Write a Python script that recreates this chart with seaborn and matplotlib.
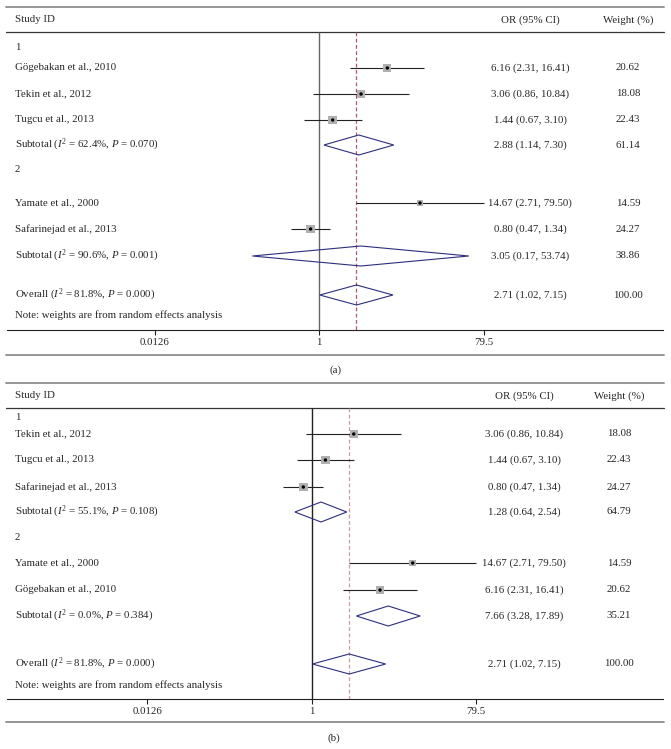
import numpy as np
import pandas as pd
import matplotlib
matplotlib.use("Agg")
import matplotlib.pyplot as plt
import seaborn as sns

#%% data

# panel (a): studies grouped 1 / 2
a_study = ["Gögebakan et al., 2010", "Tekin et al., 2012", "Tugcu et al., 2013",
           "Yamate et al., 2000", "Safarinejad et al., 2013"]
a_group = [1, 1, 1, 2, 2]
a_or = [6.16, 3.06, 1.44, 14.67, 0.80]
a_lo = [2.31, 0.86, 0.67, 2.71, 0.47]
a_hi = [16.41, 10.84, 3.10, 79.50, 1.34]
a_wt = [20.62, 18.08, 22.43, 14.59, 24.27]
a_sub_or = [2.88, 3.05]
a_sub_lo = [1.14, 0.17]
a_sub_hi = [7.30, 53.74]
a_sub_wt = [61.14, 38.86]
a_sub_i2 = [62.4, 90.6]
a_sub_p = ["0.070", "0.001"]

# panel (b): other grouping
b_study = ["Tekin et al., 2012", "Tugcu et al., 2013", "Safarinejad et al., 2013",
           "Yamate et al., 2000", "Gögebakan et al., 2010"]
b_group = [1, 1, 1, 2, 2]
b_or = [3.06, 1.44, 0.80, 14.67, 6.16]
b_lo = [0.86, 0.67, 0.47, 2.71, 2.31]
b_hi = [10.84, 3.10, 1.34, 79.50, 16.41]
b_wt = [18.08, 22.43, 24.27, 14.59, 20.62]
b_sub_or = [1.28, 7.66]
b_sub_lo = [0.64, 3.28]
b_sub_hi = [2.54, 17.89]
b_sub_wt = [64.79, 35.21]
b_sub_i2 = [55.1, 0.0]
b_sub_p = ["0.108", "0.384"]

# overall estimate (same in both panels)
overall_or = 2.71
overall_lo = 1.02
overall_hi = 7.15
overall_wt = 100.00
overall_i2 = 81.8
overall_p = "0.000"

group_labels = ["1", "2"]
tick_vals = [0.0126, 1, 79.5]
tick_labels = ["0.0126", "1", "79.5"]
note = "Note: weights are from random effects analysis"

#%% layout (pixel rows / columns of each panel)

W, H = 671, 749
PX_PER_LN = 37.6  # horizontal pixels per unit of ln(OR)

layout_a = dict(top=7, head=20, rule=32, groups=[48, 170], studies=[68, 94, 120, 203, 229],
                subs=[145, 256], overall=295, note=315, axis=330, bottom=355,
                label=370, label_x=336, x1=319, or_x=530, wt_x=628,
                vcol="#666666", dcol="#a85a6c")
layout_b = dict(top=383, head=396, rule=408, groups=[418, 538], studies=[434, 460, 487, 563, 590],
                subs=[512, 616], overall=664, note=685, axis=699, bottom=722,
                label=738, label_x=334, x1=311.7, or_x=524, wt_x=619,
                vcol="#222222", dcol="#c89aa6")

sns.set_theme(style="white")
plt.rcParams["font.family"] = ["Liberation Serif", "DejaVu Serif"]
plt.rcParams["mathtext.fontset"] = "custom"
plt.rcParams["mathtext.rm"] = "Liberation Serif"
plt.rcParams["mathtext.it"] = "Liberation Serif:italic"
FS = 7.8
DIAMOND = "#2e2e80"
SQUARE = "#b0b0b0"


def px_to_or(px, x1):
    return np.exp((px - x1) / PX_PER_LN)


def fmt_ci(o, lo, hi):
    return f"{o:.2f} ({lo:.2f}, {hi:.2f})"


def draw_panel(fig, L, study, group, o, lo, hi, wt, s_or, s_lo, s_hi, s_wt, s_i2, s_p, tag):
    ax = fig.add_axes([0, 0, 1, 1])
    ax.patch.set_visible(False)
    ax.set_xscale("log")
    ax.set_xlim(px_to_or(0, L["x1"]), px_to_or(W, L["x1"]))
    ax.set_ylim(H, 0)
    yt = ax.get_yaxis_transform()
    xmin, xmax = 6 / W, 664 / W

    # rules
    ax.axhline(L["top"], xmin, xmax, color="#8c8c8c", lw=1.3)
    ax.axhline(L["rule"], xmin, xmax, color="#333333", lw=0.9)
    ax.axhline(L["bottom"], xmin, xmax, color="#8c8c8c", lw=1.3)

    # headers
    ax.text(15 / W, L["head"], "Study ID", transform=yt, fontsize=FS, va="center")
    ax.text(L["or_x"] / W, L["head"], "OR (95% CI)", transform=yt, fontsize=FS, va="center", ha="center")
    ax.text(L["wt_x"] / W, L["head"], "Weight (%)", transform=yt, fontsize=FS, va="center", ha="center")

    # reference lines
    ax.vlines(1, L["rule"], L["axis"], color=L["vcol"], lw=1.0)
    ax.vlines(overall_or, L["rule"], L["axis"], color=L["dcol"], lw=0.9, linestyles=(0, (3, 2)))

    # studies
    df = pd.DataFrame({"study": study, "group": group, "or": o, "lo": lo, "hi": hi,
                       "wt": wt, "y": L["studies"]})
    ax.hlines(df["y"], df["lo"], df["hi"], color="#222222", lw=0.8)
    sns.scatterplot(data=df, x="or", y="y", size="wt", sizes=(0, 42), size_norm=(0, 25),
                    marker="s", color=SQUARE, edgecolor="none", legend=False, ax=ax, zorder=3)
    sns.scatterplot(data=df, x="or", y="y", marker="o", color="black", s=6,
                    edgecolor="none", legend=False, ax=ax, zorder=4)
    for _, r in df.iterrows():
        ax.text(15 / W, r["y"], r["study"], transform=yt, fontsize=FS, va="center")
        ax.text(L["or_x"] / W, r["y"], fmt_ci(r["or"], r["lo"], r["hi"]), transform=yt,
                fontsize=FS, va="center", ha="center")
        ax.text(L["wt_x"] / W, r["y"], f"{r['wt']:.2f}", transform=yt,
                fontsize=FS, va="center", ha="center")

    # group labels and subtotals
    rows = list(zip(s_or, s_lo, s_hi, s_wt, [f"Subtotal ($I^2$ = {i:.1f}%, $P$ = {p})" for i, p in zip(s_i2, s_p)], L["subs"]))
    rows.append((overall_or, overall_lo, overall_hi, overall_wt,
                 f"Overall ($I^2$ = {overall_i2:.1f}%, $P$ = {overall_p})", L["overall"]))
    for g, gy in zip(group_labels, L["groups"]):
        ax.text(15 / W, gy, g, transform=yt, fontsize=FS, va="center")
    for so, sl, sh, sw, lab, y in rows:
        h = 10
        ax.fill([sl, so, sh, so, sl], [y, y - h, y, y + h, y], facecolor="none",
                edgecolor=DIAMOND, lw=0.8, zorder=3)
        ax.text(15 / W, y, lab, transform=yt, fontsize=FS, va="center")
        ax.text(L["or_x"] / W, y, fmt_ci(so, sl, sh), transform=yt, fontsize=FS, va="center", ha="center")
        ax.text(L["wt_x"] / W, y, f"{sw:.2f}", transform=yt, fontsize=FS, va="center", ha="center")
    ax.text(15 / W, L["note"], note, transform=yt, fontsize=FS, va="center")

    # x axis
    for s in ["top", "left", "right"]:
        ax.spines[s].set_visible(False)
    ax.spines["bottom"].set_position(("data", L["axis"]))
    ax.spines["bottom"].set_bounds(px_to_or(7, L["x1"]), px_to_or(663, L["x1"]))
    ax.spines["bottom"].set_color("#222222")
    ax.spines["bottom"].set_linewidth(0.8)
    ax.set_xticks(tick_vals)
    ax.set_xticklabels(tick_labels)
    ax.minorticks_off()
    ax.tick_params(axis="x", bottom=True, direction="out", length=3.6, width=0.8,
                   color="#222222", pad=2.5, labelsize=FS)
    ax.set_yticks([])
    ax.set_xlabel("")
    ax.set_ylabel("")

    ax.text(L["label_x"] / W, L["label"], tag, transform=yt, fontsize=FS, va="center", ha="center")
    return ax


fig = plt.figure(figsize=(W / 100, H / 100), dpi=100)
draw_panel(fig, layout_a, a_study, a_group, a_or, a_lo, a_hi, a_wt,
           a_sub_or, a_sub_lo, a_sub_hi, a_sub_wt, a_sub_i2, a_sub_p, "(a)")
draw_panel(fig, layout_b, b_study, b_group, b_or, b_lo, b_hi, b_wt,
           b_sub_or, b_sub_lo, b_sub_hi, b_sub_wt, b_sub_i2, b_sub_p, "(b)")
fig.savefig("out.png", dpi=100)
